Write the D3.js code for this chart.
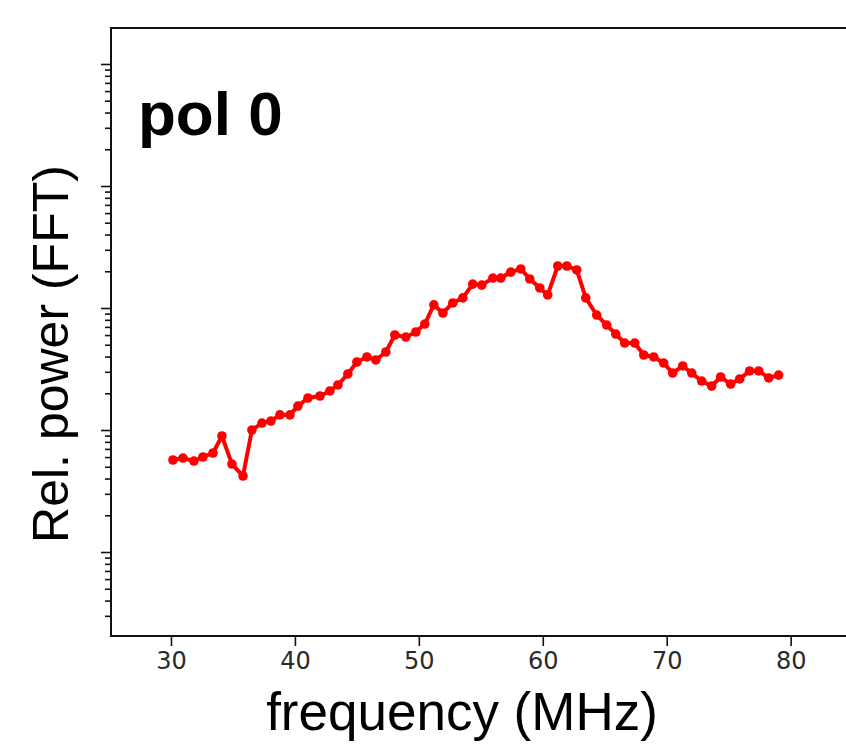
<!DOCTYPE html>
<html>
<head>
<meta charset="utf-8">
<script src="https://cdn.jsdelivr.net/npm/d3@7"></script>
<style>
  html, body { margin: 0; padding: 0; background: #fff; }
  svg { display: block; }
</style>
</head>
<body>
<svg id="chart" width="846" height="754"></svg>
<script>
// frequency of each channel (MHz)
const freqs = [
  30.16, 30.97, 31.85, 32.58, 33.39, 34.11, 34.92, 35.81, 36.53, 37.34,
  38.06, 38.79, 39.60, 40.24, 41.05, 42.02, 42.82, 43.47, 44.27, 45.00,
  45.81, 46.53, 47.34, 48.06, 48.95, 49.76, 50.48, 51.21, 51.94, 52.74,
  53.55, 54.35, 55.08, 55.97, 56.61, 57.42, 58.23, 58.95, 59.76, 60.40,
  61.21, 61.94, 62.74, 63.47, 64.35, 65.16, 65.89, 66.61, 67.42, 68.15,
  68.95, 69.76, 70.48, 71.29, 72.02, 72.82, 73.63, 74.35, 75.16, 75.89,
  76.69, 77.42, 78.23, 79.03
];
// relative power per channel (log axis)
const power = [
  0.568, 0.589, 0.557, 0.601, 0.648, 0.893, 0.526, 0.420, 1.00, 1.14,
  1.185, 1.33, 1.33, 1.57, 1.83, 1.90, 2.09, 2.34, 2.88, 3.61,
  3.97, 3.75, 4.36, 6.01, 5.78, 6.36, 7.39, 10.6, 9.10, 11.0,
  12.1, 15.7, 15.4, 17.6, 17.6, 19.7, 20.9, 17.3, 14.6, 12.8,
  22.1, 22.1, 20.5, 12.1, 8.76, 7.25, 6.12, 5.16, 5.16, 4.12,
  3.97, 3.54, 2.93, 3.35, 2.93, 2.52, 2.29, 2.72, 2.38, 2.62,
  3.05, 3.05, 2.67, 2.82
];
const xTicks = [30, 40, 50, 60, 70, 80];
const xDomain = [25.16, 86];
const yDomain = [0.0205, 1972];

const svg = d3.select('#chart');
const M = {left: 111, top: 28, bottom: 636, right: 865};

const x = d3.scaleLinear().domain(xDomain).range([M.left, M.right]);
const y = d3.scaleLog().domain(yDomain).range([M.bottom, M.top]);

// minor + major log ticks
const majors = [0.1, 1, 10, 100, 1000];
const minors = [];
[0.01, 0.1, 1, 10, 100, 1000].forEach(d => {
  for (let k = 2; k <= 9; k++) {
    const v = d * k;
    if (v > yDomain[0] && v < yDomain[1]) minors.push(v);
  }
});

const yMinor = svg.append('g')
  .attr('transform', `translate(${M.left},0)`)
  .call(d3.axisLeft(y).tickValues(minors).tickSize(6).tickFormat(''));
const yMajor = svg.append('g')
  .attr('transform', `translate(${M.left},0)`)
  .call(d3.axisLeft(y).tickValues(majors).tickSize(10).tickFormat(''));
[yMinor, yMajor].forEach(g => {
  g.select('.domain').remove();
  g.selectAll('line').attr('stroke', '#111').attr('stroke-width', 1.6);
});

const xAxis = svg.append('g')
  .attr('transform', `translate(0,${M.bottom})`)
  .call(d3.axisBottom(x).tickValues(xTicks).tickSize(10).tickPadding(6).tickFormat(d3.format('d')));
xAxis.select('.domain').remove();
xAxis.selectAll('line').attr('stroke', '#111').attr('stroke-width', 1.6);
xAxis.selectAll('text')
  .attr('font-family', 'DejaVu Sans')
  .attr('font-size', 24)
  .attr('fill', '#2a2a2a');

// spines
svg.append('rect')
  .attr('x', M.left).attr('y', M.top)
  .attr('width', M.right - M.left).attr('height', M.bottom - M.top)
  .attr('fill', 'none')
  .attr('stroke', '#111')
  .attr('stroke-width', 2);

// series
const pts = freqs.map((f, i) => [f, power[i]]);
const line = d3.line().x(d => x(d[0])).y(d => y(d[1]));
svg.append('path')
  .datum(pts)
  .attr('d', line)
  .attr('fill', 'none')
  .attr('stroke', '#ff0000')
  .attr('stroke-width', 4)
  .attr('stroke-linejoin', 'round');
svg.append('g').selectAll('circle')
  .data(pts)
  .join('circle')
  .attr('cx', d => x(d[0]))
  .attr('cy', d => y(d[1]))
  .attr('r', 4.8)
  .attr('fill', '#ff0000');

// labels
svg.append('text')
  .attr('x', 138).attr('y', 135)
  .attr('font-family', 'Liberation Sans, Arial, sans-serif')
  .attr('font-weight', 'bold')
  .attr('font-size', 62)
  .attr('fill', '#000')
  .text('pol 0');

svg.append('text')
  .attr('x', 462).attr('y', 730)
  .attr('text-anchor', 'middle')
  .attr('font-family', 'Liberation Sans, Arial, sans-serif')
  .attr('font-size', 53)
  .attr('fill', '#000')
  .text('frequency (MHz)');

svg.append('text')
  .attr('transform', 'translate(68,354) rotate(-90)')
  .attr('text-anchor', 'middle')
  .attr('font-family', 'Liberation Sans, Arial, sans-serif')
  .attr('font-size', 50)
  .attr('fill', '#000')
  .text('Rel. power (FFT)');
</script>
</body>
</html>
